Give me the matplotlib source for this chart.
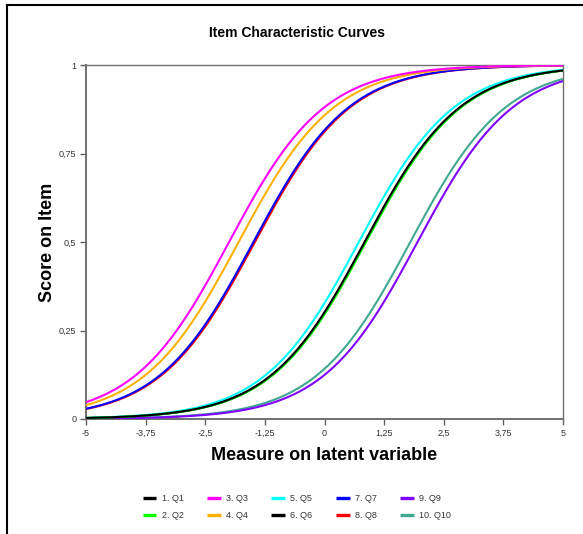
import numpy as np
import matplotlib
matplotlib.use("Agg")
import matplotlib.pyplot as plt
from matplotlib.lines import Line2D

# Item difficulties (logits) read from the 0.5 crossing of each curve
items = ["1. Q1", "2. Q2", "3. Q3", "4. Q4", "5. Q5", "6. Q6", "7. Q7", "8. Q8", "9. Q9", "10. Q10"]
difficulty = [0.84, 0.87, -2.00, -1.80, 0.72, 0.85, -1.49, -1.46, 1.95, 1.80]
colors = ["#000000", "#00FF00", "#FF00FF", "#FFB000", "#00FFFF",
          "#000000", "#0000FF", "#FF0000", "#7F00FF", "#40A890"]

xticks = [-5, -3.75, -2.5, -1.25, 0, 1.25, 2.5, 3.75, 5]
xticklabels = ["-5", "-3,75", "-2,5", "-1,25", "0", "1,25", "2,5", "3,75", "5"]
yticks = [0, 0.25, 0.5, 0.75, 1]
yticklabels = ["0", "0,25", "0,5", "0,75", "1"]

plt.rcParams['font.family'] = ['Liberation Sans', 'DejaVu Sans']

fig = plt.figure(figsize=(5.83, 5.34), dpi=100)
ax = fig.add_axes([86/583, 1-419/534, (563-86)/583, (419-65)/534])

theta = np.linspace(-5, 5, 400)
handles = []
n = len(items)
for i, (name, b, c) in enumerate(zip(items, difficulty, colors)):
    p = 1.0 / (1.0 + np.exp(-(theta - b)))
    h, = ax.plot(theta, p, color=c, lw=1.5, label=name, solid_capstyle='butt',
                 zorder=3 + (n - i) * 0.1)
    handles.append(h)

ax.set_xlim(-5, 5)
ax.set_ylim(0, 1)
ax.set_xticks(xticks)
ax.set_xticklabels(xticklabels)
ax.set_yticks(yticks)
ax.set_yticklabels(yticklabels)
ax.tick_params(axis='both', direction='out', length=4, width=1, color='#606060',
               labelsize=6.5, labelcolor='#333333', pad=3)
for s in ax.spines.values():
    s.set_color('#707070')
    s.set_linewidth(1.0)
ax.spines['left'].set_linewidth(1.4)
ax.spines['bottom'].set_linewidth(1.4)

fig.text(297/583, 1-33/534, "Item Characteristic Curves", fontsize=10, fontweight='bold',
         ha='center', va='center')
ax.set_xlabel("Measure on latent variable", fontsize=13, fontweight='bold', labelpad=7)
ax.set_ylabel("Score on Item", fontsize=13, fontweight='bold', labelpad=2)

leg = fig.legend(handles=handles, loc='center', bbox_to_anchor=(297/583, 1-507/534), ncol=5,
                 frameon=False, fontsize=6.5, handlelength=1.5, handletextpad=0.6,
                 columnspacing=2.6, labelspacing=0.9)
for t in leg.get_texts():
    t.set_color('#333333')
for lh in leg.get_lines():
    lh.set_linewidth(2.4)

# outer frame (left and top edges)
fig.add_artist(Line2D([7/583, 7/583], [0, 1-5/534], transform=fig.transFigure, color='black', lw=1.5))
fig.add_artist(Line2D([7/583, 1], [1-5/534, 1-5/534], transform=fig.transFigure, color='black', lw=1.5))

fig.savefig("out.png", dpi=100)
